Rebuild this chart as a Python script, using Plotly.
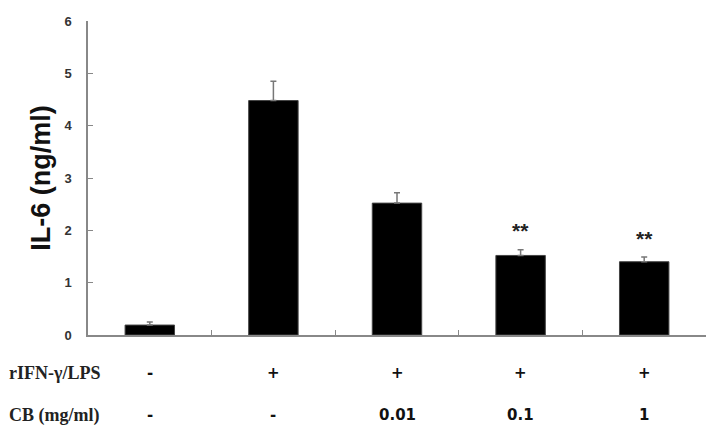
import plotly.graph_objects as go

categories = ["Control", "rIFN-γ/LPS", "CB 0.01", "CB 0.1", "CB 1"]
il6_values = [0.19, 4.48, 2.52, 1.52, 1.40]
il6_errors = [0.06, 0.37, 0.20, 0.11, 0.09]
significance = ["", "", "", "**", "**"]
row_labels = ["rIFN-γ/LPS", "CB (mg/ml)"]
row_ifn = ["-", "+", "+", "+", "+"]
row_cb = ["-", "-", "0.01", "0.1", "1"]
y_ticks = [0, 1, 2, 3, 4, 5, 6]

fig = go.Figure()
fig.add_trace(go.Bar(
    x=categories, y=il6_values, width=0.4,
    marker=dict(color="black", line=dict(color="#444", width=1)),
    error_y=dict(type="data", symmetric=False, array=il6_errors,
                 arrayminus=[0] * len(il6_errors),
                 color="#777", thickness=1.5, width=3),
    showlegend=False,
))

annotations = []
for c, v, e, s in zip(categories, il6_values, il6_errors, significance):
    if s:
        annotations.append(dict(x=c, y=v + e, xref="x", yref="y", text="<b>%s</b>" % s,
                                showarrow=False, yshift=19,
                                font=dict(family="Arial", size=21, color="#222")))

row_y = [-0.12, -0.255]
for lab, yy in zip(row_labels, row_y):
    annotations.append(dict(x=0, y=yy, xref="paper", yref="paper", text="<b>%s</b>" % lab,
                            showarrow=False, xanchor="left", yanchor="middle",
                            xshift=7 - 88,
                            font=dict(family="Liberation Serif", size=18, color="#222")))
for vals, yy in zip([row_ifn, row_cb], row_y):
    for c, t in zip(categories, vals):
        annotations.append(dict(x=c, y=yy, xref="x", yref="paper", text="<b>%s</b>" % t,
                                showarrow=False, xanchor="center", yanchor="middle",
                                font=dict(family="DejaVu Sans", size=15, color="#111")))

fig.update_layout(
    width=712, height=425,
    margin=dict(l=88, r=6, t=21, b=90),
    paper_bgcolor="white", plot_bgcolor="white",
    annotations=annotations,
    xaxis=dict(type="category", showticklabels=False, showline=True,
               linecolor="#888", linewidth=1.5, ticks="inside", ticklen=5,
               tickcolor="#888", tickson="boundaries", showgrid=False,
               zeroline=False),
    yaxis=dict(range=[0, 6], tickvals=y_ticks, showline=True, linecolor="#888",
               linewidth=1.5, ticks="inside", ticklen=5, tickcolor="#888",
               showgrid=False, zeroline=False, ticklabelstandoff=12,
               tickfont=dict(family="Arial", size=13, color="#333", weight="bold"),
               title=dict(text="<b>IL-6 (ng/ml)</b>", standoff=6,
                          font=dict(family="Arial", size=27, color="#111"))),
)

fig.write_html("out.html")
